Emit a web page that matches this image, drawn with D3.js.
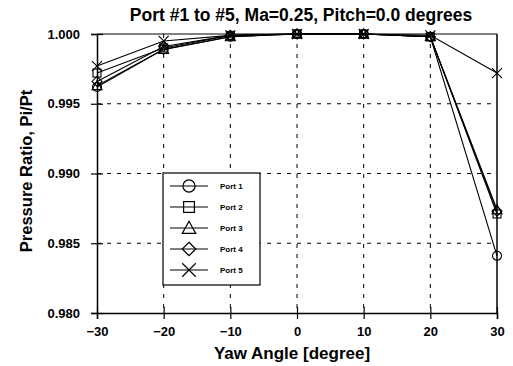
<!DOCTYPE html>
<html><head><meta charset="utf-8">
<script src="https://cdn.jsdelivr.net/npm/d3@7"></script>
<style>body{margin:0;background:#fff}svg{display:block;font-family:"Liberation Sans",Arial,sans-serif}</style>
</head><body><svg id="c" width="513" height="366"></svg>
<script>
const yaw = [-30, -20, -10, 0, 10, 20, 30];
const port1 = [0.9962, 0.9989, 0.9998, 1.0000, 1.0000, 0.9998, 0.9841];
const port2 = [0.9972, 0.9990, 0.9999, 1.0000, 1.0000, 0.9998, 0.9871];
const port3 = [0.9963, 0.9989, 0.9998, 1.0000, 1.0000, 0.9998, 0.9874];
const port4 = [0.9966, 0.9991, 0.9999, 1.0000, 1.0000, 0.9998, 0.9873];
const port5 = [0.9977, 0.9995, 0.9999, 1.0000, 1.0000, 0.9999, 0.9972];
const seriesNames = ["Port 1", "Port 2", "Port 3", "Port 4", "Port 5"];
const markers = ["circle", "square", "triangle", "diamond", "cross"];
const xTicks = [-30, -20, -10, 0, 10, 20, 30];
const yTicks = [0.980, 0.985, 0.990, 0.995, 1.000];

const series = [port1, port2, port3, port4, port5];
const svg = d3.select("#c");
const L = 97, R = 497, T = 34, B = 313;
const x = d3.scaleLinear().domain([-30, 30]).range([L, R]);
const y = d3.scaleLinear().domain([0.980, 1.000]).range([B, T]);

// grid
const g = svg.append("g");
g.selectAll(".gx").data(xTicks.slice(1, -1)).enter().append("line")
  .attr("x1", d => x(d)).attr("x2", d => x(d)).attr("y1", T).attr("y2", B)
  .attr("stroke", "#000").attr("stroke-width", 1).attr("stroke-dasharray", "4,6");
g.selectAll(".gy").data(yTicks.slice(1, -1)).enter().append("line")
  .attr("x1", L).attr("x2", R).attr("y1", d => y(d)).attr("y2", d => y(d))
  .attr("stroke", "#000").attr("stroke-width", 1).attr("stroke-dasharray", "4,6");
// frame top/right
svg.append("line").attr("x1", L).attr("x2", R).attr("y1", T).attr("y2", T).attr("stroke", "#000").attr("stroke-width", 1);
svg.append("line").attr("x1", R).attr("x2", R).attr("y1", T).attr("y2", B).attr("stroke", "#000").attr("stroke-width", 1.5);

// axes
const xa = svg.append("g").attr("transform", `translate(0,${B})`)
  .call(d3.axisBottom(x).tickValues(xTicks).tickFormat(d3.format("d")).tickSize(6).tickPadding(8));
xa.selectAll(".tick line").attr("y1", -6);
const ya = svg.append("g").attr("transform", `translate(${L},0)`)
  .call(d3.axisLeft(y).tickValues(yTicks).tickFormat(d3.format(".3f")).tickSize(6).tickPadding(11));
ya.selectAll(".tick line").attr("x1", 6);
[xa, ya].forEach(a => {
  a.select(".domain").attr("stroke-width", 1.5);
  a.selectAll(".tick line").attr("stroke-width", 1.2);
  a.selectAll("text").attr("font-size", 13).attr("font-weight", "bold").attr("fill", "#000");
});

// markers
function drawMarker(sel, type, cx, cy) {
  const s = sel.append("g").attr("transform", `translate(${cx},${cy})`)
    .attr("fill", "none").attr("stroke", "#000").attr("stroke-width", 1.1);
  if (type === "circle") s.append("circle").attr("r", 4.5);
  else if (type === "square") s.append("rect").attr("x", -4).attr("y", -4).attr("width", 8).attr("height", 8);
  else if (type === "triangle") s.append("path").attr("d", "M0,-5L5,4L-5,4Z");
  else if (type === "diamond") s.append("path").attr("d", "M0,-5L5,0L0,5L-5,0Z");
  else s.append("path").attr("d", "M-5,-5L5,5M-5,5L5,-5");
  return s;
}

const line = d3.line().x((d, i) => x(yaw[i])).y(d => y(d));
series.forEach((vals, k) => {
  svg.append("path").datum(vals).attr("d", line)
    .attr("fill", "none").attr("stroke", "#000").attr("stroke-width", 1.1);
  vals.forEach((v, i) => drawMarker(svg, markers[k], x(yaw[i]), y(v)));
});

// legend
const lg = svg.append("g");
lg.append("rect").attr("x", 163).attr("y", 173).attr("width", 97).attr("height", 112)
  .attr("fill", "#fff").attr("stroke", "#000").attr("stroke-width", 1.2);
seriesNames.forEach((n, k) => {
  const ly = 186 + k * 21;
  lg.append("line").attr("x1", 170).attr("x2", 208).attr("y1", ly).attr("y2", ly)
    .attr("stroke", "#000").attr("stroke-width", 1.1);
  const m = drawMarker(lg, markers[k], 189, ly);
  m.attr("transform", `translate(189,${ly}) scale(1.35)`).attr("stroke-width", 0.9);
  lg.append("text").attr("x", 220).attr("y", ly + 3).attr("font-size", 8)
    .attr("font-weight", "bold").text(n);
});

// title & labels
svg.append("text").attr("x", 301).attr("y", 21).attr("text-anchor", "middle")
  .attr("font-size", 17.5).attr("font-weight", "bold").text("Port #1 to #5, Ma=0.25, Pitch=0.0 degrees");
svg.append("text").attr("x", 292).attr("y", 359).attr("text-anchor", "middle")
  .attr("font-size", 17).attr("font-weight", "bold").text("Yaw Angle [degree]");
svg.append("text").attr("transform", "translate(32,171) rotate(-90)").attr("text-anchor", "middle")
  .attr("font-size", 16.5).attr("font-weight", "bold").text("Pressure Ratio, Pi/Pt");
</script></body></html>
